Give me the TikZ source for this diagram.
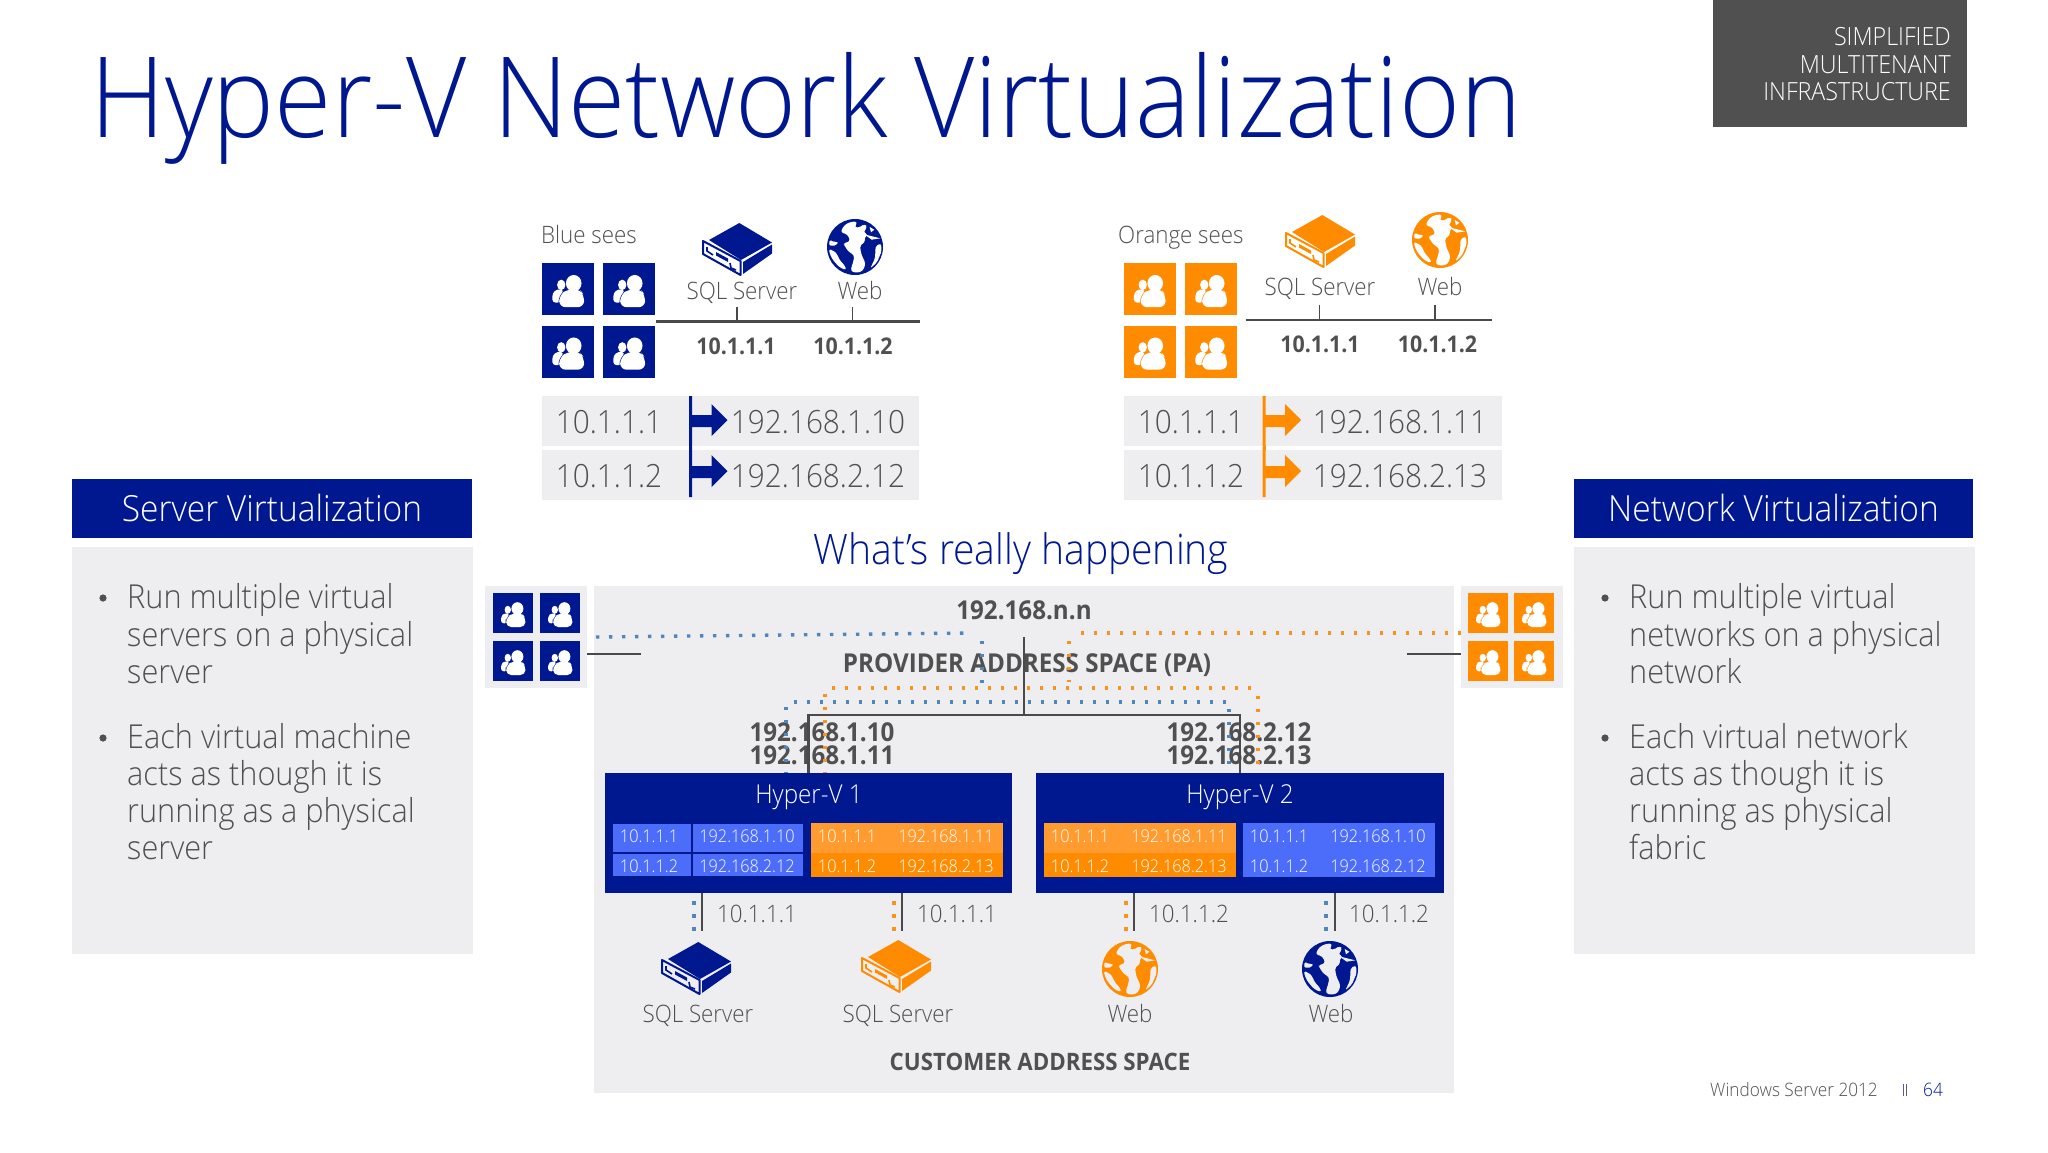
\documentclass[tikz,border=0pt]{standalone}
\usepackage{fontspec}
\setmainfont{Open Sans}[FakeStretch=0.93]
\newfontfamily\lightf{Open Sans Light}[FakeStretch=0.93]
\newfontfamily\boldf{Open Sans Bold}[FakeStretch=0.93]
\definecolor{navy}{HTML}{00188F}
\definecolor{orng}{HTML}{FF8C00}
\definecolor{orngl}{HTML}{FF9B2F}
\definecolor{txtg}{HTML}{505050}
\definecolor{pan}{HTML}{EEEEF0}
\definecolor{cellb}{HTML}{4C6CFA}
\definecolor{dotb}{HTML}{4F86BC}
\definecolor{doto}{HTML}{F7941D}
\definecolor{linec}{HTML}{4A4A4A}
\newcommand\fs[1]{\fontsize{#1}{#1}\selectfont}
\tikzset{
 lab/.style={inner sep=0,text=txtg,anchor=base},
 lbl/.style={lab,font=\lightf\fs{#1}},
 bld/.style={lab,font=\boldf\fs{#1}},
 whl/.style={lab,text=white,font=\lightf\fs{#1}},
 cellt/.style={lab,text=white,font=\lightf\fs{17.5}},
 block/.style={inner sep=0,outer sep=0,draw=none,minimum width=#1},
 wire/.style={draw=linec,line width=2.4pt},
 dotsb/.style={draw=dotb,line width=3.4pt,dash pattern=on 3.4pt off 9.6pt},
 dotso/.style={draw=doto,line width=3.4pt,dash pattern=on 3.4pt off 9.6pt},
}
% tile: x y size colour
\newcommand\ptile[4]{%
 \begin{scope}[shift={(#1,#2)},x=#3/100*1pt,y=-#3/100*1pt]
  \fill[#4] (0,0) rectangle (100,100);
  \fill[white] (37,42) ellipse [x radius=8,y radius=10];
  \fill[white,rounded corners=3pt] (20,76)--(20,58)--(29,50)--(42,52)--(36,64)--(36,76)--cycle;
  \path[draw=#4,line width=#3/40*1pt,fill=white,rounded corners=#3/8*1pt] (33,85)--(33,62)--(50,50)--(72,50)--(81,62)--(81,85)--cycle;
  \fill[white,rounded corners=#3/8*1pt] (33,85)--(33,62)--(50,50)--(72,50)--(81,62)--(81,85)--cycle;
  \fill[white] (61,39) ellipse [x radius=15,y radius=16];
 \end{scope}}
% 2x2 tiles
\newcommand\ptiles[7]{%
 \ptile{#1}{#3}{#5}{#7}\ptile{#2}{#3}{#5}{#7}\ptile{#1}{#4}{#5}{#7}\ptile{#2}{#4}{#5}{#7}}
% server: cx cy colour bg
\newcommand\srv[4]{%
 \begin{scope}[shift={(#1,#2)}]
  \fill[#3] (2.3,-25)--(35,-5.5)--(4,12)--(-28,-8)--cycle;
  \fill[#3] (35,-3.5)--(35,5.5)--(6,26)--(6,14)--cycle;
  \draw[#3,line width=2pt,fill=#4,line join=round] (-34,-7)--(3.5,13)--(3.5,27)--(-34,6)--cycle;
  \fill[#3] (-21,4)--(-9,10.5)--(-9,14)--(-21,7.5)--cycle;
  \draw[#3,line width=1.6pt] (-30,-1)--(-30,3)--(-24,7);
  \draw[#3,line width=1.6pt] (-7,15)--(-6,20)--(-1,22);
 \end{scope}}
% globe: cx cy colour bg
\newcommand\glb[4]{%
 \begin{scope}[shift={(#1,#2)},x=0.3333pt,y=-0.3333pt]
  \fill[#3] (0,0) circle (84pt*0.3333);
  \fill[#4,rounded corners=3pt] (-32,-66)--(-12,-76)--(8,-76)--(-2,-58)--(18,-60)--(28,-70)--(38,-60)--(24,-44)--(40,-38)--(26,-26)--(32,-14)--(16,-8)--(16,10)--(22,30)--(32,48)--(24,72)--(4,78)--(-14,72)--(-4,40)--(-2,24)--(-20,14)--(-30,-2)--(-36,-12)--(-14,-16)--(-22,-38)--(-44,-44)--cycle;
  \fill[#4,rounded corners=3pt] (-80,6)--(-66,10)--(-54,20)--(-46,40)--(-30,56)--(-26,70)--(-48,60)--(-70,34)--cycle;
  \fill[#4,rounded corners=2pt] (-76,-22)--(-62,-14)--(-50,-16)--(-56,-4)--(-78,-4)--cycle;
  \fill[#4,rounded corners=2pt] (62,-4)--(78,-10)--(80,12)--(66,46)--(46,64)--(60,34)--cycle;
  \fill[#4] (44,-60)--(58,-52)--(48,-44)--cycle;
  \fill[#4] (28,-38)--(60,-30)--(76,-26)--(50,-22)--cycle;
 \end{scope}}
% translation row
\newcommand\flagarr[3]{%
 \fill[#3] (#1-1.5,#2-24)--(#1+1.5,#2-24)--(#1+1.5,#2-5)--(#1+21,#2-5)--(#1+21,#2-16)--(#1+37,#2)--(#1+21,#2+16)--(#1+21,#2+7)--(#1+1.5,#2+7)--(#1+1.5,#2+26)--(#1-1.5,#2+26)--cycle;}
\begin{document}
\begin{tikzpicture}[x=1pt,y=-1pt]
\useasboundingbox (0,0) rectangle (2048,1152);
\fill[white] (0,0) rectangle (2048,1152);
% title & tag
\node[lab,text=navy,font=\lightf\fs{112},anchor=base west] (title) at (90,137) {Hyper-V Network Virtualization};
\fill[txtg] (1713,0) rectangle (1967,127);
\node[whl=25,anchor=base east] (tag1) at (1951,45) {SIMPLIFIED};
\node[whl=25,anchor=base east] (tag2) at (1951,73) {MULTITENANT};
\node[whl=25,anchor=base east] (tag3) at (1951,100) {INFRASTRUCTURE};
% side panels
\fill[navy] (72,479) rectangle (472,538);
\fill[pan] (72,547) rectangle (473,954);
\node[whl=36] (sv) at (272,521) {Server Virtualization};
\fill[navy] (1574,479) rectangle (1973,538);
\fill[pan] (1574,547) rectangle (1975,954);
\node[whl=36] (nv) at (1773.5,521) {Network Virtualization};
\foreach \yy/\tt in {608/Run multiple virtual,646/servers on a physical,683/server,748/Each virtual machine,785/acts as though it is,822/running as a physical,859/server}
 \node[lbl=33,anchor=base west] at (127,\yy) {\tt};
\foreach \yy/\tt in {608/Run multiple virtual,646/networks on a physical,683/network,748/Each virtual network,785/acts as though it is,822/running as physical,859/fabric}
 \node[lbl=33,anchor=base west] at (1629,\yy) {\tt};
\foreach \xx in {103,1605} \foreach \yy in {598,738} \fill[txtg] (\xx,\yy) circle (3.6pt);
% Blue sees
\node[lbl=24,anchor=base west] (bs) at (541,243) {Blue sees};
\ptiles{542}{603}{263}{325.5}{52}{}{navy}
\srv{737}{248}{navy}{white}
\glb{855}{247}{navy}{white}
\node[lbl=24] (bsql) at (742,299) {SQL Server};
\node[lbl=24] (bweb) at (860,299) {Web};
\coordinate (bl) at (656,321.5); \coordinate (br) at (920,321.5);
\coordinate (bt1) at (737,307); \coordinate (bt2) at (852.5,307);
\draw[wire] (bl)--(br);
\draw[wire,line width=1.8pt] (bt1)--(bt1|-bl);
\draw[wire,line width=1.8pt] (bt2)--(bt2|-bl);
\node[bld=23] (bip1) at (736,354) {10.1.1.1};
\node[bld=23] (bip2) at (853,354) {10.1.1.2};
\fill[pan] (542,396) rectangle (919,446);
\fill[pan] (542,450) rectangle (919,500);
\flagarr{690.5}{420}{navy}\flagarr{690.5}{471}{navy}
\fill[navy] (689,446) rectangle (692,450);
\node[lbl=32] at (609,433) {10.1.1.1};
\node[lbl=32] at (609,487) {10.1.1.2};
\node[lbl=32] at (818,433) {192.168.1.10};
\node[lbl=32] at (818,487) {192.168.2.12};
% Orange sees
\node[lbl=24,anchor=base west] (os) at (1118,243) {Orange sees};
\ptiles{1123.5}{1185}{263}{325.5}{52}{}{orng}
\srv{1320}{240}{orng}{white}
\glb{1440}{240}{orng}{white}
\node[lbl=24] (osql) at (1320,295) {SQL Server};
\node[lbl=24] (oweb) at (1440,295) {Web};
\coordinate (ol) at (1246,320); \coordinate (or) at (1492,320);
\coordinate (ot1) at (1319.5,305); \coordinate (ot2) at (1435,305);
\draw[wire] (ol)--(or);
\draw[wire,line width=1.8pt] (ot1)--(ot1|-ol);
\draw[wire,line width=1.8pt] (ot2)--(ot2|-ol);
\node[bld=23] (oip1) at (1320,352) {10.1.1.1};
\node[bld=23] (oip2) at (1437.5,352) {10.1.1.2};
\fill[pan] (1124,396) rectangle (1502,446);
\fill[pan] (1124,450) rectangle (1502,500);
\flagarr{1264}{420}{orng}\flagarr{1264}{471}{orng}
\fill[orng] (1262.5,446) rectangle (1265.5,450);
\node[lbl=32] at (1191,433) {10.1.1.1};
\node[lbl=32] at (1191,487) {10.1.1.2};
\node[lbl=32] at (1400,433) {192.168.1.11};
\node[lbl=32] at (1400,487) {192.168.2.13};
% middle heading
\node[lab,text=navy,font=\lightf\fs{42}] (wrh) at (1021,564) {What’s really happening};
% main panel
\fill[pan] (594,586) rectangle (1454,1093);
\fill[pan] (485,586) rectangle (587,688);
\fill[pan] (1461,586) rectangle (1563,688);
\ptiles{493}{540}{593}{641}{40}{}{navy}
\ptiles{1468}{1514}{593}{641}{40}{}{orng}
% texts under wires
\node[bld=26] (pan) at (1024,619) {192.168.n.n};
\node[bld=26] (pas) at (1027,672) {PROVIDER ADDRESS SPACE (PA)};
\node[bld=26] (h1a) at (822,741) {192.168.1.10};
\node[bld=26] (h1b) at (822,764) {192.168.1.11};
\node[bld=26] (h2a) at (1239,741) {192.168.2.12};
\node[bld=26] (h2b) at (1239,764) {192.168.2.13};
% dotted routes
\coordinate (ba) at (596,637); \coordinate (bb) at (971,633); \coordinate (bc) at (982,641); \coordinate (bd) at (982,692);
\coordinate (be) at (794,702); \coordinate (bf) at (1229,702); \coordinate (bg) at (786,707); \coordinate (bh) at (786,773); \coordinate (bi) at (1229,709); \coordinate (bj) at (1229,773);
\draw[dotsb] (ba)--(bb);
\draw[dotsb] (bc)--(bd);
\draw[dotsb] (be)--(bf);
\draw[dotsb] (bg)--(bh);
\draw[dotsb] (bi)--(bj);
\coordinate (oa) at (1461,633); \coordinate (ob) at (1074,633); \coordinate (oc) at (1069,641); \coordinate (od) at (1069,682);
\coordinate (oe) at (832,688); \coordinate (of) at (1254,688); \coordinate (og) at (825,694); \coordinate (oh) at (825,773); \coordinate (oi) at (1258,696); \coordinate (oj) at (1258,773);
\draw[dotso] (oa)--(ob);
\draw[dotso] (oc)--(od);
\draw[dotso] (oe)--(of);
\draw[dotso] (og)--(oh);
\draw[dotso] (oi)--(oj);
% Hyper-V hosts
\node[block=407pt,minimum height=120pt,fill=navy] (hv1) at (808.5,833) {};
\node[block=408pt,minimum height=120pt,fill=navy] (hv2) at (1240,833) {};
\node[whl=26] (hv1t) at (809,803) {Hyper-V 1};
\node[whl=26] (hv2t) at (1240,803) {Hyper-V 2};
% wires
\coordinate (l1) at (587,654); \coordinate (l2) at (641,654);
\coordinate (r1) at (1407,654); \coordinate (r2) at (1461,654);
\draw[wire] (l1)--(l2);
\draw[wire] (r1)--(r2);
\coordinate (ptop) at (1024,637); \coordinate (pbus) at (1024,715);
\draw[wire] (ptop)--(pbus);
\draw[wire] (hv1.north)|-(pbus)-|(hv2.north);
% tables in hosts
\fill[cellb] (613,824) rectangle (691,852);
\fill[cellb] (693,824) rectangle (803,852);
\fill[cellb] (613,854) rectangle (691,876);
\fill[cellb] (693,854) rectangle (803,876);
\fill[orngl] (811,823) rectangle (1003,853);
\fill[orng] (811,853) rectangle (1003,877);
\fill[orngl] (1044,823) rectangle (1236,853);
\fill[orng] (1044,853) rectangle (1236,877);
\fill[cellb] (1243,823) rectangle (1435,877);
\foreach \xa/\xb/\ta/\tb/\tc/\td in {649/747/10.1.1.1/192.168.1.10/10.1.1.2/192.168.2.12,847/946/10.1.1.1/192.168.1.11/10.1.1.2/192.168.2.13,1080/1179/10.1.1.1/192.168.1.11/10.1.1.2/192.168.2.13,1279/1378/10.1.1.1/192.168.1.10/10.1.1.2/192.168.2.12}{
 \node[cellt] at (\xa,842) {\ta};
 \node[cellt] at (\xb,842) {\tb};
 \node[cellt] at (\xa,872) {\tc};
 \node[cellt] at (\xb,872) {\td};
}
% lower drops
\foreach \lx/\dx/\dc/\tx/\tt in {702/694/dotb/757/10.1.1.1,902/894/doto/957/10.1.1.1,1134/1126/doto/1189/10.1.1.2,1335/1326/dotb/1389/10.1.1.2}{
 \coordinate (t\lx) at (\lx,893);
 \coordinate (e\lx) at (\lx,931);
 \draw[wire] (t\lx)--(e\lx);
 \foreach \dy in {903,916,929} \fill[\dc] (\dx-1.8,\dy-1.8) rectangle (\dx+1.8,\dy+1.8);
 \node[lbl=24] at (\tx,922) {\tt};
}
\srv{696}{967}{navy}{pan}
\srv{896}{965}{orng}{pan}
\glb{1130}{969}{orng}{pan}
\glb{1330}{969}{navy}{pan}
\node[lbl=24] (s1) at (698,1022) {SQL Server};
\node[lbl=24] (s2) at (898,1022) {SQL Server};
\node[lbl=24] (w1) at (1130,1022) {Web};
\node[lbl=24] (w2) at (1331,1022) {Web};
\node[bld=24] (cas) at (1040,1070) {CUSTOMER ADDRESS SPACE};
% footer
\node[lbl=18.5,anchor=base west] (ws) at (1710,1096) {Windows Server 2012};
\draw[draw=gray!70!blue,line width=1pt] (1903.5,1084)--(1903.5,1096) (1906,1084)--(1906,1096);
\node[lab,text=navy,font=\lightf\fs{18.5},anchor=base west] (pg) at (1923,1096) {64};
\end{tikzpicture}
\end{document}
